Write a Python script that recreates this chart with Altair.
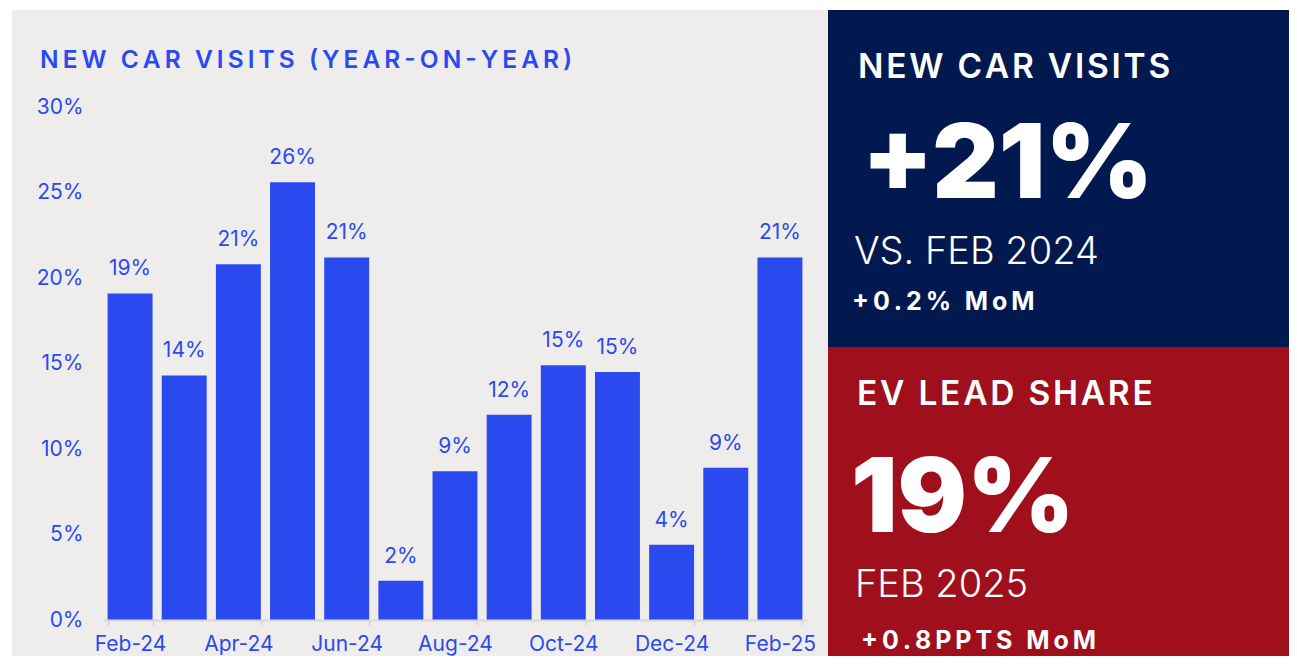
import altair as alt
import pandas as pd

# ---------------- data ----------------
months = ["Feb-24", "Mar-24", "Apr-24", "May-24", "Jun-24", "Jul-24", "Aug-24",
          "Sep-24", "Oct-24", "Nov-24", "Dec-24", "Jan-25", "Feb-25"]
yoy_pct = [19.1, 14.3, 20.8, 25.6, 21.2, 2.3, 8.7, 12.0, 14.9, 14.5, 4.4, 8.9, 21.2]
bar_labels = ["19%", "14%", "21%", "26%", "21%", "2%", "9%", "12%", "15%", "15%", "4%", "9%", "21%"]
axis_months = ["Feb-24", "Apr-24", "Jun-24", "Aug-24", "Oct-24", "Dec-24", "Feb-25"]
y_ticks = [0, 5, 10, 15, 20, 25, 30]

chart_title = "NEW CAR VISITS (YEAR-ON-YEAR)"
kpi1_title = "NEW CAR VISITS"
kpi1_value = "+21%"
kpi1_sub = "VS. FEB 2024"
kpi1_note = "+0.2% MoM"
kpi2_title = "EV LEAD SHARE"
kpi2_value = "19%"
kpi2_sub = "FEB 2025"
kpi2_note = "+0.8PPTS MoM"

BLUE = "#2A4AF0"
GRAY_BG = "#EFEDEC"
NAVY = "#02194F"
RED = "#A00F1C"
FONT = "Inter"

HAIR = "\u200a"


def track(s, k=1):
    return (HAIR * k).join(s)


df = pd.DataFrame({"month": months, "yoy": yoy_pct, "label": bar_labels})
one = pd.DataFrame({"a": [0]})

W, H = 704, 513

# ---------------- background panels ----------------
def panel(x, x2, y, y2, color):
    return alt.Chart(one).mark_rect(color=color).encode(
        x=alt.value(x), x2=alt.value(x2), y=alt.value(y), y2=alt.value(y2)
    )

panels = [
    panel(-91, 725, -97, 560, GRAY_BG),
    panel(725, 1200, -97, 240, NAVY),
    panel(725, 1200, 240, 560, RED),
]

# ---------------- bars ----------------
xenc = alt.X(
    "month:N", sort=months,
    scale=alt.Scale(paddingInner=0.17, paddingOuter=0.085),
    axis=alt.Axis(values=axis_months, tickBand="extent", labelAngle=0, title=None,
                  labelFont=FONT, labelFontSize=21, labelColor=BLUE,
                  domainColor="#D8D8D8", domainWidth=2, tickColor="#D8D8D8",
                  tickWidth=2, tickSize=5, labelPadding=8, grid=False, zindex=1),
)
yenc = alt.Y(
    "yoy:Q", scale=alt.Scale(domain=[0, 30], nice=False),
    axis=alt.Axis(values=y_ticks, labelExpr="datum.value + '%'", domain=False, ticks=False,
                  grid=False, labelPadding=20, labelFont=FONT, labelFontSize=21,
                  labelColor=BLUE, title=None, zindex=1),
)

bars = alt.Chart(df).mark_bar(color=BLUE).encode(x=xenc, y=yenc)
labels = alt.Chart(df).mark_text(
    color=BLUE, font=FONT, fontSize=21, baseline="alphabetic", dy=-18
).encode(x=alt.X("month:N", sort=months), y="yoy:Q", text="label:N")


# ---------------- text annotations ----------------
def txt(s, x, y, size, weight, color):
    return alt.Chart(one).mark_text(
        text=s, align="left", baseline="alphabetic", font=FONT,
        fontSize=size, fontWeight=weight, color=color
    ).encode(x=alt.value(x), y=alt.value(y))

texts = [
    txt(track(chart_title, 2), -63, -39, 24.5, 600, BLUE),
    txt(track(kpi1_title, 1), 755, -29, 33.5, 600, "white"),
    txt(kpi1_value, 759, 91, 103, 900, "white"),
    txt(kpi1_sub, 751, 157, 38, 300, "white"),
    txt(track(kpi1_note, 2), 749, 203, 25, 700, "white"),
    txt(track(kpi2_title, 1), 754, 298, 33.5, 600, "white"),
    txt(kpi2_value, 748, 425, 103, 900, "white"),
    txt(kpi2_sub, 752, 490, 38, 300, "white"),
    txt(track(kpi2_note, 2), 758, 542, 25, 700, "white"),
]

chart = alt.layer(*panels, bars, labels, *texts).properties(
    width=W, height=H,
    autosize=alt.AutoSizeParams(type="none"),
    padding={"left": 95, "top": 99, "right": 482, "bottom": 36},
    background="white",
).configure_view(stroke=None)

chart.save("out.html", embed_options={"renderer": "svg", "actions": False})
